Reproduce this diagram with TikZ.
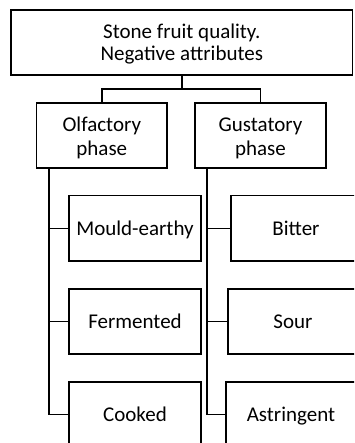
\documentclass[tikz,border=0pt]{standalone}
\usepackage{fontspec}
\setmainfont{Carlito}
\begin{document}
\begin{tikzpicture}[x=1pt,y=-1pt,
  box/.style={draw, line width=1.5pt, inner sep=0pt, align=center,
    font=\fontsize{21}{21.7}\selectfont, text height=13.4pt, text depth=0pt,
    minimum width=132pt, minimum height=65.3pt},
  twoline/.style={font=\fontsize{21}{24.3}\selectfont, text height=41pt, text depth=0pt},
  conn/.style={line width=1.6pt, line cap=rect}]
\useasboundingbox (0,0) rectangle (354,443);
\clip (0,0) rectangle (354,443);
\node[box, minimum width=341.7pt, minimum height=65pt, text height=36.4pt] (top) at (181.8,42.5) {Stone fruit quality.\\Negative attributes};
\node[box, twoline, minimum width=130.3pt] (olf) at (101.8,135.5) {Olfactory\\phase};
\node[box, twoline, minimum width=131pt] (gus) at (260.5,135.5) {Gustatory\\phase};
\node[box] (mould) at (135,228.3) {Mould-earthy};
\node[box] (ferm) at (135,321.5) {Fermented};
\node[box] (cooked) at (135,414.5) {Cooked};
\node[box, minimum width=130.3pt] (bitter) at (296,228.3) {Bitter};
\node[box, minimum width=130.3pt] (sour) at (293,321.5) {Sour};
\node[box, minimum width=130.3pt] (astr) at (291,414.5) {Astringent};
\coordinate (j) at (181.8,89);
\draw[conn] (top.south) -- (j);
\draw[conn] (olf.north) |- (j) -| (gus.north);
\draw[conn] ([xshift=13.3pt]olf.south west) coordinate (ot) |- (cooked.west);
\draw[conn] (ot |- mould.west) -- (mould.west);
\draw[conn] (ot |- ferm.west) -- (ferm.west);
\draw[conn] ([xshift=13pt]gus.south west) coordinate (gt) |- (astr.west);
\draw[conn] (gt |- bitter.west) -- (bitter.west);
\draw[conn] (gt |- sour.west) -- (sour.west);
\end{tikzpicture}
\end{document}
